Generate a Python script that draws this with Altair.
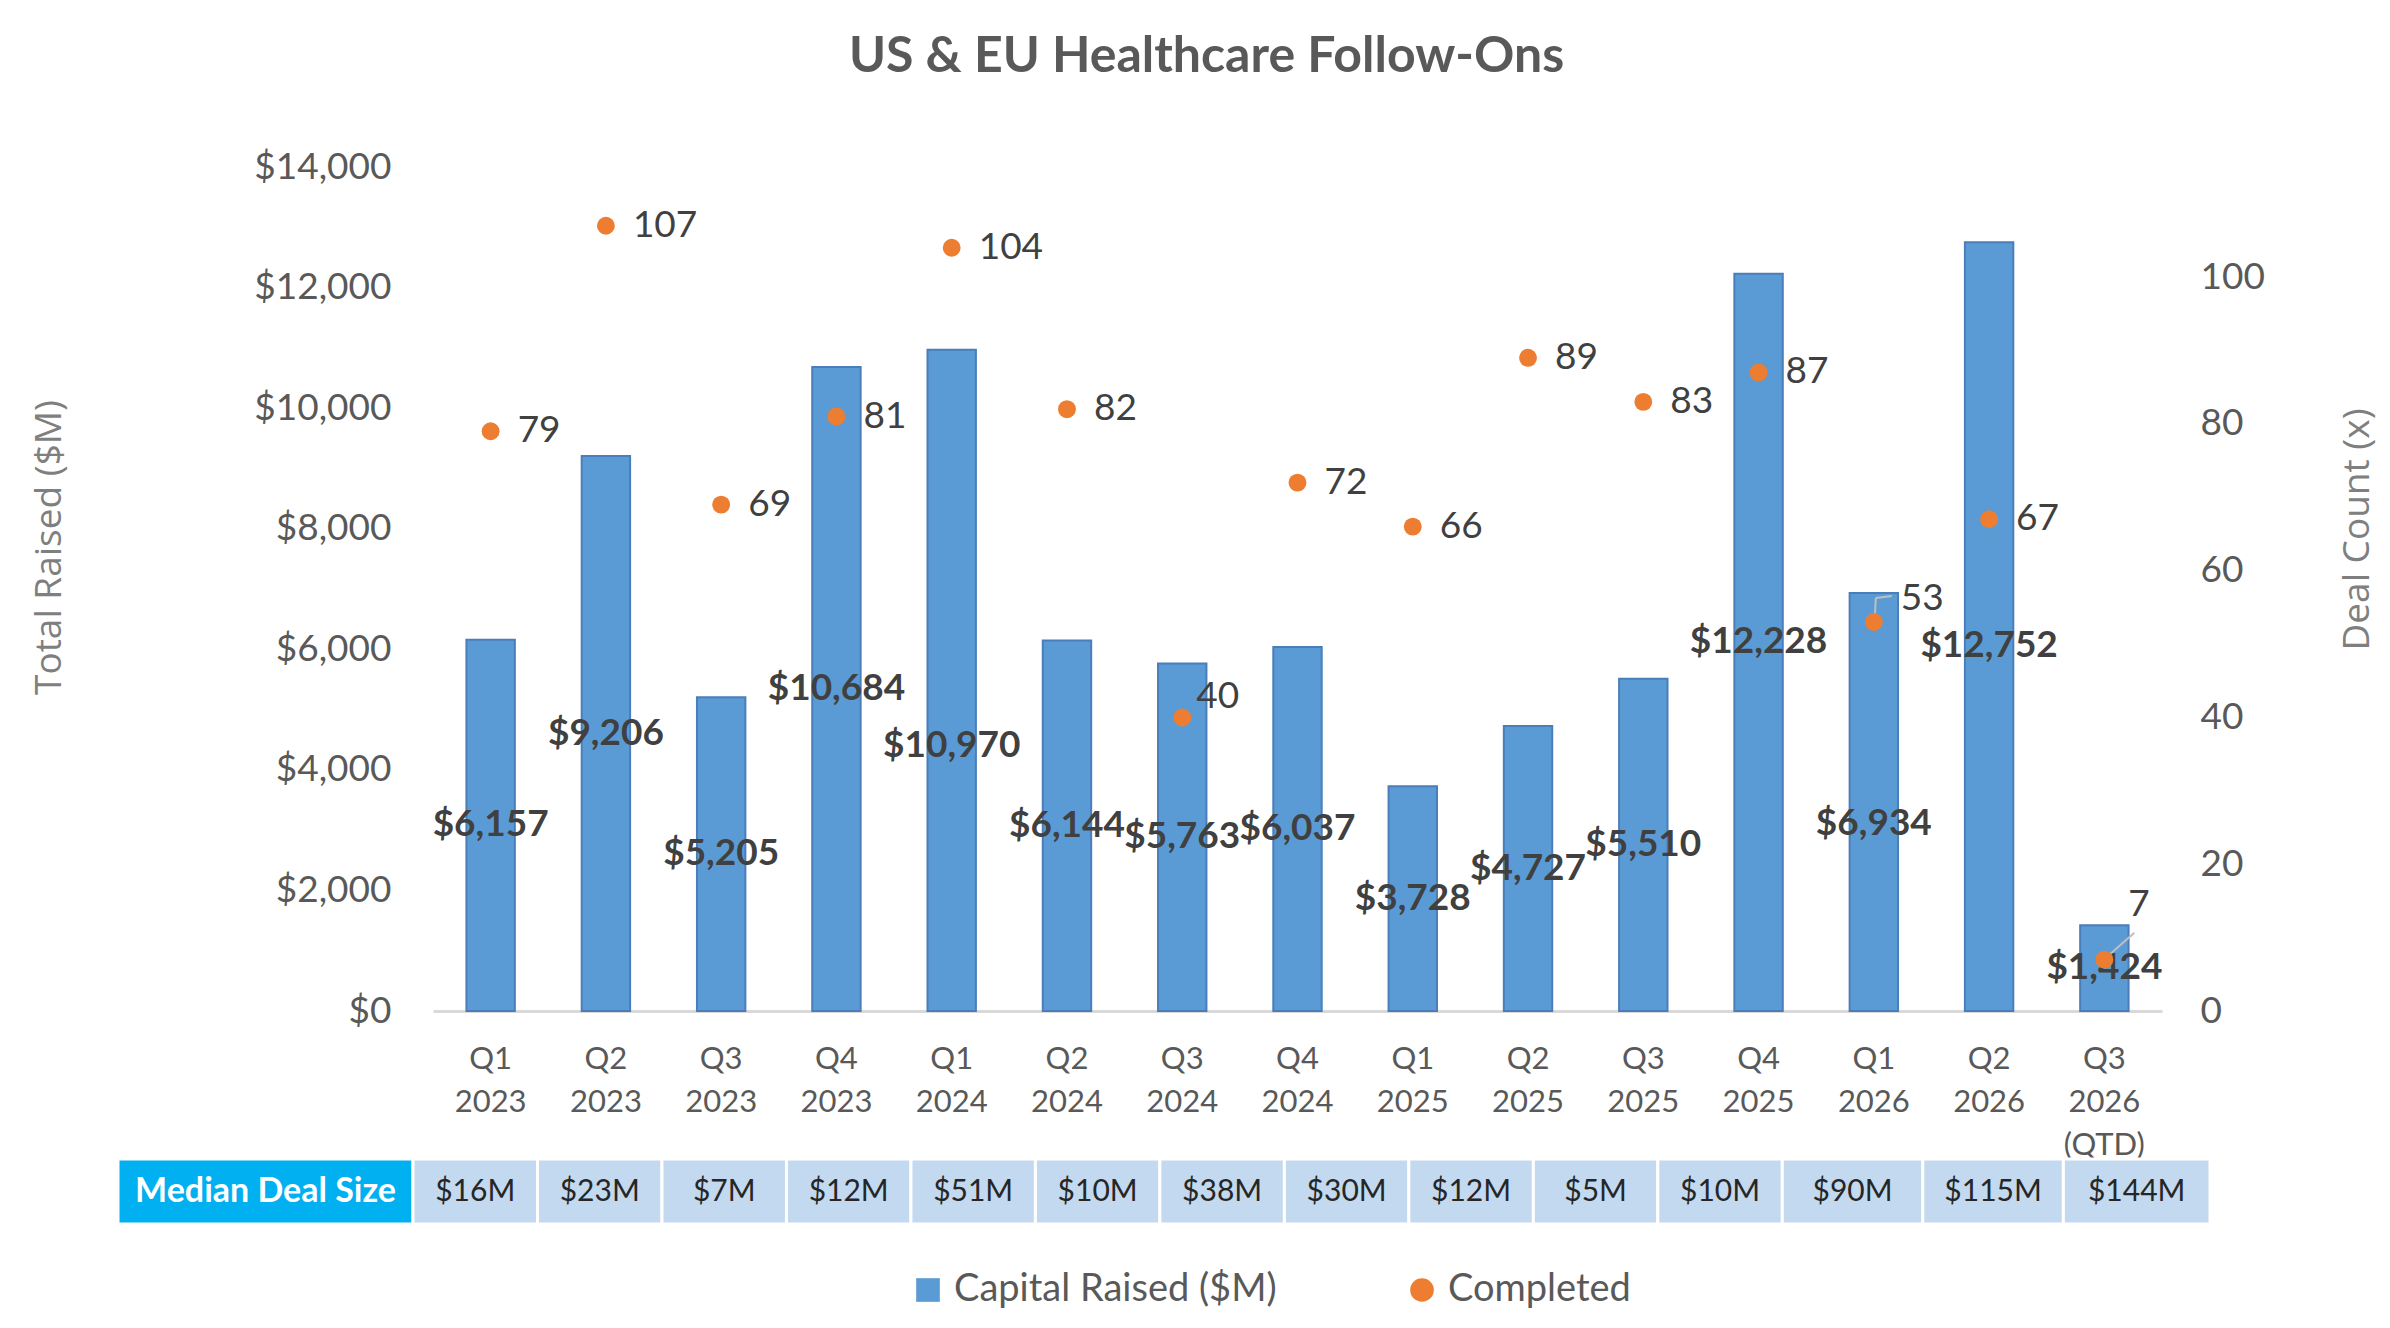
import altair as alt
import pandas as pd

# ---------------- data ----------------
quarters = ["Q1 2023", "Q2 2023", "Q3 2023", "Q4 2023", "Q1 2024", "Q2 2024", "Q3 2024",
            "Q4 2024", "Q1 2025", "Q2 2025", "Q3 2025", "Q4 2025", "Q1 2026", "Q2 2026",
            "Q3 2026 (QTD)"]
capital_raised = [6157, 9206, 5205, 10684, 10970, 6144, 5763, 6037, 3728, 4727, 5510,
                  12228, 6934, 12752, 1424]
completed = [79, 107, 69, 81, 104, 82, 40, 72, 66, 89, 83, 87, 53, 67, 7]
median_deal_size = ["$16M", "$23M", "$7M", "$12M", "$51M", "$10M", "$38M", "$30M",
                    "$12M", "$5M", "$10M", "$90M", "$115M", "$144M"]
table_header = ["Median Deal Size"]
series_names = ["Capital Raised ($M)", "Completed"]
left_ticks = [0, 2000, 4000, 6000, 8000, 10000, 12000, 14000]
right_ticks = [0, 20, 40, 60, 80, 100]

# ---------------- layout / style ----------------
W, H = 1729, 844
PAD = {"left": 425, "top": 159, "right": 220, "bottom": 300}
# relative column widths of the median-deal-size table (header first)
HEADER_UNITS = 2.37
CELL_UNITS = [1.0] * 11 + [1.129, 1.129, 1.178]
FONT = "Lato"
GRAY = "#595959"
DARK = "#404040"
BLUE = "#5B9BD5"
ORANGE = "#ED7D31"
LEADER = "#BFBFBF"

df = pd.DataFrame({"quarter": quarters, "capital": capital_raised, "completed": completed})
base = alt.Chart(df)

band = alt.Scale(domain=quarters, paddingInner=0.58, paddingOuter=0.29)
x_enc = alt.X(
    "quarter:N", sort=quarters, scale=band,
    axis=alt.Axis(
        title=None, labelAngle=0, labelExpr="split(datum.value, ' ')",
        labelFont=FONT, labelFontSize=31, labelColor=GRAY, labelLineHeight=43,
        labelBaseline="top", labelPadding=33, ticks=False, labelFlush=False,
        domainColor="#D9D9D9", domainWidth=3, grid=False, labelOverlap=False,
    ),
)
x_noaxis = alt.X("quarter:N", sort=quarters, scale=band, axis=None)

left_scale = alt.Scale(domain=[0, 14000], nice=False, zero=True)
right_scale = alt.Scale(domain=[0, 115], nice=False, zero=True)

legend = alt.Legend(
    title=None, orient="none", legendX=476, legendY=1104, direction="horizontal",
    labelFont=FONT, labelFontSize=38, labelColor=GRAY, symbolSize=560, labelLimit=0,
    symbolStrokeWidth=0, columnPadding=126, labelOffset=7, padding=0,
)
color_enc = alt.Color("series:N", scale=alt.Scale(domain=series_names, range=[BLUE, ORANGE]),
                      legend=legend)

bars = base.transform_calculate(series="'Capital Raised ($M)'").mark_bar(
    stroke="#4A7EBB", strokeWidth=2
).encode(
    x=x_enc,
    y=alt.Y("capital:Q", scale=left_scale, axis=alt.Axis(
        values=left_ticks, format="$,.0f", title="Total Raised ($M)",
        labelFont=FONT, labelFontSize=37, labelColor=GRAY, labelPadding=42,
        domain=False, ticks=False, grid=False,
        titleFont="Open Sans", titleFontSize=37, titleFontWeight="normal",
        titleColor="#7F7F7F", titleX=-384, titleY=380, titleBaseline="middle",
    )),
    color=color_enc,
)


def bar_label(filter_expr, dy):
    return base.transform_filter(filter_expr).transform_calculate(
        half="datum.capital / 2"
    ).mark_text(font=FONT, fontWeight="bold", fontSize=37, color=DARK,
                baseline="middle", dy=dy).encode(
        x=x_noaxis,
        y=alt.Y("half:Q", scale=left_scale, axis=None),
        text=alt.Text("capital:Q", format="$,.0f"),
    )


special_bar = "datum.quarter == 'Q1 2024' || datum.quarter == 'Q1 2026' || datum.quarter == 'Q2 2026'"
bar_labels = [
    bar_label("!(" + special_bar + ")", 0),
    bar_label("datum.quarter == 'Q1 2024'", 66),
    bar_label("datum.quarter == 'Q1 2026'", 22),
    bar_label("datum.quarter == 'Q2 2026'", 19),
]


def leader(quarter, x0, y0, x1, y1):
    return base.transform_filter(f"datum.quarter == '{quarter}'").mark_rule(
        color=LEADER, strokeWidth=2, xOffset=x0, yOffset=y0, x2Offset=x1, y2Offset=y1
    ).encode(
        x=x_noaxis, x2="quarter:N",
        y=alt.Y("completed:Q", scale=right_scale, axis=None), y2="completed:Q",
    )


leaders = [
    leader("Q1 2026", 1, -6, 2, -24),
    leader("Q1 2026", 2, -24, 18, -26),
    leader("Q3 2026 (QTD)", 5, -5, 30, -27),
]

points = base.transform_calculate(series="'Completed'").mark_point(
    filled=True, size=320, opacity=1
).encode(
    x=x_noaxis,
    y=alt.Y("completed:Q", scale=right_scale, axis=alt.Axis(
        orient="right", values=right_ticks, title="Deal Count (x)",
        labelFont=FONT, labelFontSize=37, labelColor=GRAY, labelPadding=38,
        domain=False, ticks=False, grid=False,
        titleFont="Open Sans", titleFontSize=37, titleFontWeight="normal",
        titleColor="#7F7F7F", titleAngle=270, titleX=195, titleY=362,
        titleBaseline="middle",
    )),
    color=color_enc,
    shape=alt.Shape("series:N", scale=alt.Scale(domain=series_names, range=["square", "circle"]),
                    legend=legend),
)


def point_label(filter_expr, dx, dy):
    return base.transform_filter(filter_expr).mark_text(
        font=FONT, fontSize=37, color=DARK, align="left", baseline="middle", dx=dx, dy=dy
    ).encode(
        x=x_noaxis,
        y=alt.Y("completed:Q", scale=right_scale, axis=None),
        text=alt.Text("completed:Q"),
    )


special_pt = "datum.quarter == 'Q1 2026' || datum.quarter == 'Q3 2026 (QTD)' || datum.quarter == 'Q3 2024'"
point_labels = [
    point_label("!(" + special_pt + ")", 27, 0),
    point_label("datum.quarter == 'Q1 2026'", 27, -23),
    point_label("datum.quarter == 'Q3 2026 (QTD)'", 24, -55),
    point_label("datum.quarter == 'Q3 2024'", 14, -20),
]

# ---------------- median deal size table ----------------
total_units = sum(CELL_UNITS)
tx_scale = alt.Scale(domain=[-HEADER_UNITS, total_units], range=[-315, 1777], nice=False, zero=False)
ty_scale = alt.Scale(domain=[0, 1], range=[992, 1057], nice=False, zero=False)

cells = alt.Chart(pd.DataFrame({"label": median_deal_size, "idx": list(range(len(median_deal_size))),
                                "w": CELL_UNITS})).transform_window(
    x1="sum(w)", sort=[alt.SortField("idx")], frame=[None, 0]
).transform_calculate(x0="datum.x1 - datum.w", xm="datum.x1 - datum.w / 2",
                      y0="0", y1="1", ym="0.5")
header = alt.Chart(pd.DataFrame({"label": table_header})).transform_calculate(
    x0=str(-HEADER_UNITS), x1="0", xm=str(-HEADER_UNITS / 2), y0="0", y1="1", ym="0.5")

cell_rect = cells.mark_rect(fill="#C2D9EF", stroke="white", strokeWidth=3).encode(
    x=alt.X("x0:Q", scale=tx_scale, axis=None), x2="x1:Q",
    y=alt.Y("y0:Q", scale=ty_scale, axis=None), y2="y1:Q")
cell_text = cells.mark_text(font=FONT, fontSize=30, color="#262626", baseline="middle").encode(
    x=alt.X("xm:Q", scale=tx_scale, axis=None),
    y=alt.Y("ym:Q", scale=ty_scale, axis=None), text="label:N")
head_rect = header.mark_rect(fill="#00B0F0", stroke="white", strokeWidth=3).encode(
    x=alt.X("x0:Q", scale=tx_scale, axis=None), x2="x1:Q",
    y=alt.Y("y0:Q", scale=ty_scale, axis=None), y2="y1:Q")
head_text = header.mark_text(font=FONT, fontSize=34, fontWeight="bold", color="white",
                             baseline="middle").encode(
    x=alt.X("xm:Q", scale=tx_scale, axis=None),
    y=alt.Y("ym:Q", scale=ty_scale, axis=None), text="label:N")

chart = alt.layer(
    bars, *bar_labels, *leaders, points, *point_labels,
    head_rect, cell_rect, head_text, cell_text
).resolve_scale(x="independent", y="independent").properties(
    width=W, height=H, padding=PAD,
    autosize=alt.AutoSizeParams(type="none"),
    background="white",
    title=alt.TitleParams(
        text="US & EU Healthcare Follow-Ons", font=FONT, fontSize=50, fontWeight="bold",
        color=GRAY, anchor="middle", frame="group", dx=-91, offset=66,
    ),
).configure_view(strokeWidth=0)

chart.save("out.html", embed_options={"renderer": "svg", "actions": False})
